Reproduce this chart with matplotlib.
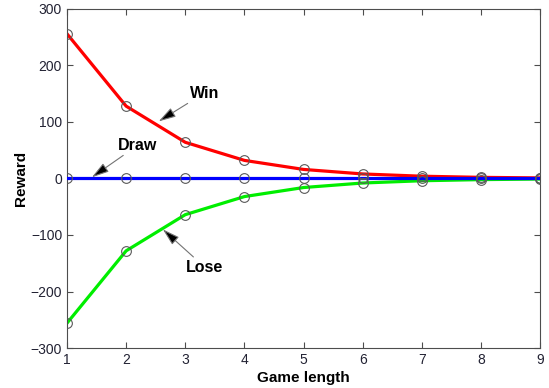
import matplotlib
matplotlib.use("Agg")
import matplotlib.pyplot as plt

game_length = [1, 2, 3, 4, 5, 6, 7, 8, 9]
win_reward = [256, 128, 64, 32, 16, 8, 4, 2, 1]
draw_reward = [0, 0, 0, 0, 0, 0, 0, 0, 0]
lose_reward = [-256, -128, -64, -32, -16, -8, -4, -2, -1]

plt.rcParams["font.family"] = ["Liberation Sans", "DejaVu Sans"]

fig = plt.figure(figsize=(5.49, 3.88), dpi=100)
ax = fig.add_axes([0.122, 0.103, 0.862, 0.874])

ax.plot(game_length, win_reward, color="#ff0000", lw=2.3, zorder=2)
ax.plot(game_length, lose_reward, color="#00ee00", lw=2.3, zorder=2)
ax.plot(game_length, draw_reward, color="#0000ff", lw=2.3, zorder=3)
for series in (win_reward, draw_reward, lose_reward):
    ax.plot(game_length, series, ls="none", marker="o", ms=7, mfc="none",
            mec="0.35", mew=0.8, zorder=4)

ax.set_xlim(1, 9)
ax.set_ylim(-300, 300)
ax.set_xticks(range(1, 10))
ax.set_yticks(range(-300, 301, 100))
ax.tick_params(direction="in", top=True, right=True, length=4, width=0.8,
               labelsize=10, labelcolor="#222233", color="0.3")
for s in ax.spines.values():
    s.set_color("0.3")
    s.set_linewidth(0.8)

ax.set_xlabel("Game length", fontsize=11, fontweight="bold", labelpad=3)
ax.set_ylabel("Reward", fontsize=11, fontweight="bold", labelpad=2)

arrow = dict(arrowstyle="-|>,head_length=0.75,head_width=0.22", ec="0.45",
             fc="black", lw=0.8, mutation_scale=14, shrinkA=0, shrinkB=0)
ax.annotate("Win", xy=(2.55, 101), xytext=(3.32, 151), fontsize=11.5,
            fontweight="bold", ha="center", va="center",
            arrowprops=arrow, zorder=5)
ax.annotate("Draw", xy=(1.42, 2), xytext=(2.2, 59), fontsize=11.5,
            fontweight="bold", ha="center", va="center",
            arrowprops=arrow, zorder=5)
ax.annotate("Lose", xy=(2.62, -90), xytext=(3.33, -157), fontsize=11.5,
            fontweight="bold", ha="center", va="center",
            arrowprops=arrow, zorder=5)

fig.savefig("out.png", dpi=100)
